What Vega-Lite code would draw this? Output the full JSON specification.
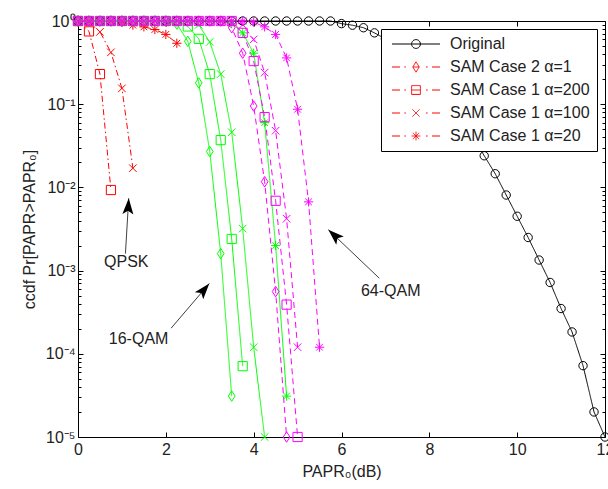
{
  "$schema": "https://vega.github.io/schema/vega-lite/v6.json",
  "width": 527,
  "height": 416,
  "autosize": {"type": "none"},
  "padding": {"left": 78, "top": 21, "right": 3, "bottom": 52},
  "background": "white",
  "config": {
    "font": "Liberation Sans",
    "view": {"stroke": null},
    "axis": {
      "grid": false,
      "domainColor": "black",
      "tickColor": "black",
      "labelColor": "#222222",
      "titleColor": "#222222",
      "labelFontSize": 16,
      "titleFontSize": 16,
      "titleFontWeight": "normal",
      "domainWidth": 1,
      "tickWidth": 1
    }
  },
  "datasets": {
    "curves": [
      {"mod": "Original", "case": "Original", "x": 0, "p": 1},
      {"mod": "Original", "case": "Original", "x": 0.25, "p": 1},
      {"mod": "Original", "case": "Original", "x": 0.5, "p": 1},
      {"mod": "Original", "case": "Original", "x": 0.75, "p": 1},
      {"mod": "Original", "case": "Original", "x": 1, "p": 1},
      {"mod": "Original", "case": "Original", "x": 1.25, "p": 1},
      {"mod": "Original", "case": "Original", "x": 1.5, "p": 1},
      {"mod": "Original", "case": "Original", "x": 1.75, "p": 1},
      {"mod": "Original", "case": "Original", "x": 2, "p": 1},
      {"mod": "Original", "case": "Original", "x": 2.25, "p": 1},
      {"mod": "Original", "case": "Original", "x": 2.5, "p": 1},
      {"mod": "Original", "case": "Original", "x": 2.75, "p": 1},
      {"mod": "Original", "case": "Original", "x": 3, "p": 1},
      {"mod": "Original", "case": "Original", "x": 3.25, "p": 1},
      {"mod": "Original", "case": "Original", "x": 3.5, "p": 1},
      {"mod": "Original", "case": "Original", "x": 3.75, "p": 1},
      {"mod": "Original", "case": "Original", "x": 4, "p": 1},
      {"mod": "Original", "case": "Original", "x": 4.25, "p": 1},
      {"mod": "Original", "case": "Original", "x": 4.5, "p": 1},
      {"mod": "Original", "case": "Original", "x": 4.75, "p": 1},
      {"mod": "Original", "case": "Original", "x": 5, "p": 1},
      {"mod": "Original", "case": "Original", "x": 5.25, "p": 1},
      {"mod": "Original", "case": "Original", "x": 5.5, "p": 1},
      {"mod": "Original", "case": "Original", "x": 5.75, "p": 1},
      {"mod": "Original", "case": "Original", "x": 6, "p": 0.93},
      {"mod": "Original", "case": "Original", "x": 6.25, "p": 0.89},
      {"mod": "Original", "case": "Original", "x": 6.5, "p": 0.83},
      {"mod": "Original", "case": "Original", "x": 6.75, "p": 0.72},
      {"mod": "Original", "case": "Original", "x": 7, "p": 0.61},
      {"mod": "Original", "case": "Original", "x": 7.25, "p": 0.48},
      {"mod": "Original", "case": "Original", "x": 7.5, "p": 0.37},
      {"mod": "Original", "case": "Original", "x": 7.75, "p": 0.28},
      {"mod": "Original", "case": "Original", "x": 8, "p": 0.2},
      {"mod": "Original", "case": "Original", "x": 8.25, "p": 0.14},
      {"mod": "Original", "case": "Original", "x": 8.5, "p": 0.095},
      {"mod": "Original", "case": "Original", "x": 8.75, "p": 0.062},
      {"mod": "Original", "case": "Original", "x": 9, "p": 0.04},
      {"mod": "Original", "case": "Original", "x": 9.25, "p": 0.024},
      {"mod": "Original", "case": "Original", "x": 9.5, "p": 0.0146},
      {"mod": "Original", "case": "Original", "x": 9.75, "p": 0.0081},
      {"mod": "Original", "case": "Original", "x": 10, "p": 0.0045},
      {"mod": "Original", "case": "Original", "x": 10.25, "p": 0.0025},
      {"mod": "Original", "case": "Original", "x": 10.5, "p": 0.00134},
      {"mod": "Original", "case": "Original", "x": 10.75, "p": 0.00072},
      {"mod": "Original", "case": "Original", "x": 11, "p": 0.00035},
      {"mod": "Original", "case": "Original", "x": 11.25, "p": 0.000183},
      {"mod": "Original", "case": "Original", "x": 11.5, "p": 0.000072},
      {"mod": "Original", "case": "Original", "x": 11.75, "p": 0.00002},
      {"mod": "Original", "case": "Original", "x": 12, "p": 0.00001},

      {"mod": "QPSK", "case": "SAM Case 2 α=1", "x": 0, "p": 1},

      {"mod": "QPSK", "case": "SAM Case 1 α=200", "x": 0, "p": 1},
      {"mod": "QPSK", "case": "SAM Case 1 α=200", "x": 0.25, "p": 0.75},
      {"mod": "QPSK", "case": "SAM Case 1 α=200", "x": 0.5, "p": 0.23},
      {"mod": "QPSK", "case": "SAM Case 1 α=200", "x": 0.75, "p": 0.0093},

      {"mod": "QPSK", "case": "SAM Case 1 α=100", "x": 0, "p": 1},
      {"mod": "QPSK", "case": "SAM Case 1 α=100", "x": 0.25, "p": 0.97},
      {"mod": "QPSK", "case": "SAM Case 1 α=100", "x": 0.5, "p": 0.74},
      {"mod": "QPSK", "case": "SAM Case 1 α=100", "x": 0.75, "p": 0.42},
      {"mod": "QPSK", "case": "SAM Case 1 α=100", "x": 1, "p": 0.155},
      {"mod": "QPSK", "case": "SAM Case 1 α=100", "x": 1.25, "p": 0.017},

      {"mod": "QPSK", "case": "SAM Case 1 α=20", "x": 0, "p": 1},
      {"mod": "QPSK", "case": "SAM Case 1 α=20", "x": 0.25, "p": 1},
      {"mod": "QPSK", "case": "SAM Case 1 α=20", "x": 0.5, "p": 1},
      {"mod": "QPSK", "case": "SAM Case 1 α=20", "x": 0.75, "p": 1},
      {"mod": "QPSK", "case": "SAM Case 1 α=20", "x": 1, "p": 0.96},
      {"mod": "QPSK", "case": "SAM Case 1 α=20", "x": 1.25, "p": 0.89},
      {"mod": "QPSK", "case": "SAM Case 1 α=20", "x": 1.5, "p": 0.85},
      {"mod": "QPSK", "case": "SAM Case 1 α=20", "x": 1.75, "p": 0.79},
      {"mod": "QPSK", "case": "SAM Case 1 α=20", "x": 2, "p": 0.69},
      {"mod": "QPSK", "case": "SAM Case 1 α=20", "x": 2.25, "p": 0.54},

      {"mod": "16-QAM", "case": "SAM Case 2 α=1", "x": 0, "p": 1},
      {"mod": "16-QAM", "case": "SAM Case 2 α=1", "x": 0.25, "p": 1},
      {"mod": "16-QAM", "case": "SAM Case 2 α=1", "x": 0.5, "p": 1},
      {"mod": "16-QAM", "case": "SAM Case 2 α=1", "x": 0.75, "p": 1},
      {"mod": "16-QAM", "case": "SAM Case 2 α=1", "x": 1, "p": 1},
      {"mod": "16-QAM", "case": "SAM Case 2 α=1", "x": 1.25, "p": 1},
      {"mod": "16-QAM", "case": "SAM Case 2 α=1", "x": 1.5, "p": 1},
      {"mod": "16-QAM", "case": "SAM Case 2 α=1", "x": 1.75, "p": 1},
      {"mod": "16-QAM", "case": "SAM Case 2 α=1", "x": 2, "p": 1},
      {"mod": "16-QAM", "case": "SAM Case 2 α=1", "x": 2.25, "p": 0.92},
      {"mod": "16-QAM", "case": "SAM Case 2 α=1", "x": 2.5, "p": 0.57},
      {"mod": "16-QAM", "case": "SAM Case 2 α=1", "x": 2.75, "p": 0.18},
      {"mod": "16-QAM", "case": "SAM Case 2 α=1", "x": 3, "p": 0.027},
      {"mod": "16-QAM", "case": "SAM Case 2 α=1", "x": 3.25, "p": 0.0016},
      {"mod": "16-QAM", "case": "SAM Case 2 α=1", "x": 3.5, "p": 0.000031},

      {"mod": "16-QAM", "case": "SAM Case 1 α=200", "x": 0, "p": 1},
      {"mod": "16-QAM", "case": "SAM Case 1 α=200", "x": 0.25, "p": 1},
      {"mod": "16-QAM", "case": "SAM Case 1 α=200", "x": 0.5, "p": 1},
      {"mod": "16-QAM", "case": "SAM Case 1 α=200", "x": 0.75, "p": 1},
      {"mod": "16-QAM", "case": "SAM Case 1 α=200", "x": 1, "p": 1},
      {"mod": "16-QAM", "case": "SAM Case 1 α=200", "x": 1.25, "p": 1},
      {"mod": "16-QAM", "case": "SAM Case 1 α=200", "x": 1.5, "p": 1},
      {"mod": "16-QAM", "case": "SAM Case 1 α=200", "x": 1.75, "p": 1},
      {"mod": "16-QAM", "case": "SAM Case 1 α=200", "x": 2, "p": 1},
      {"mod": "16-QAM", "case": "SAM Case 1 α=200", "x": 2.25, "p": 1},
      {"mod": "16-QAM", "case": "SAM Case 1 α=200", "x": 2.5, "p": 0.86},
      {"mod": "16-QAM", "case": "SAM Case 1 α=200", "x": 2.75, "p": 0.61},
      {"mod": "16-QAM", "case": "SAM Case 1 α=200", "x": 3, "p": 0.23},
      {"mod": "16-QAM", "case": "SAM Case 1 α=200", "x": 3.25, "p": 0.037},
      {"mod": "16-QAM", "case": "SAM Case 1 α=200", "x": 3.5, "p": 0.0024},
      {"mod": "16-QAM", "case": "SAM Case 1 α=200", "x": 3.75, "p": 0.000071},

      {"mod": "16-QAM", "case": "SAM Case 1 α=100", "x": 0, "p": 1},
      {"mod": "16-QAM", "case": "SAM Case 1 α=100", "x": 0.25, "p": 1},
      {"mod": "16-QAM", "case": "SAM Case 1 α=100", "x": 0.5, "p": 1},
      {"mod": "16-QAM", "case": "SAM Case 1 α=100", "x": 0.75, "p": 1},
      {"mod": "16-QAM", "case": "SAM Case 1 α=100", "x": 1, "p": 1},
      {"mod": "16-QAM", "case": "SAM Case 1 α=100", "x": 1.25, "p": 1},
      {"mod": "16-QAM", "case": "SAM Case 1 α=100", "x": 1.5, "p": 1},
      {"mod": "16-QAM", "case": "SAM Case 1 α=100", "x": 1.75, "p": 1},
      {"mod": "16-QAM", "case": "SAM Case 1 α=100", "x": 2, "p": 1},
      {"mod": "16-QAM", "case": "SAM Case 1 α=100", "x": 2.25, "p": 1},
      {"mod": "16-QAM", "case": "SAM Case 1 α=100", "x": 2.5, "p": 1},
      {"mod": "16-QAM", "case": "SAM Case 1 α=100", "x": 2.75, "p": 0.9},
      {"mod": "16-QAM", "case": "SAM Case 1 α=100", "x": 3, "p": 0.56},
      {"mod": "16-QAM", "case": "SAM Case 1 α=100", "x": 3.25, "p": 0.23},
      {"mod": "16-QAM", "case": "SAM Case 1 α=100", "x": 3.5, "p": 0.046},
      {"mod": "16-QAM", "case": "SAM Case 1 α=100", "x": 3.75, "p": 0.0032},
      {"mod": "16-QAM", "case": "SAM Case 1 α=100", "x": 4, "p": 0.00012},
      {"mod": "16-QAM", "case": "SAM Case 1 α=100", "x": 4.25, "p": 0.00001},

      {"mod": "16-QAM", "case": "SAM Case 1 α=20", "x": 0, "p": 1},
      {"mod": "16-QAM", "case": "SAM Case 1 α=20", "x": 0.25, "p": 1},
      {"mod": "16-QAM", "case": "SAM Case 1 α=20", "x": 0.5, "p": 1},
      {"mod": "16-QAM", "case": "SAM Case 1 α=20", "x": 0.75, "p": 1},
      {"mod": "16-QAM", "case": "SAM Case 1 α=20", "x": 1, "p": 1},
      {"mod": "16-QAM", "case": "SAM Case 1 α=20", "x": 1.25, "p": 1},
      {"mod": "16-QAM", "case": "SAM Case 1 α=20", "x": 1.5, "p": 1},
      {"mod": "16-QAM", "case": "SAM Case 1 α=20", "x": 1.75, "p": 1},
      {"mod": "16-QAM", "case": "SAM Case 1 α=20", "x": 2, "p": 1},
      {"mod": "16-QAM", "case": "SAM Case 1 α=20", "x": 2.25, "p": 1},
      {"mod": "16-QAM", "case": "SAM Case 1 α=20", "x": 2.5, "p": 1},
      {"mod": "16-QAM", "case": "SAM Case 1 α=20", "x": 2.75, "p": 1},
      {"mod": "16-QAM", "case": "SAM Case 1 α=20", "x": 3, "p": 1},
      {"mod": "16-QAM", "case": "SAM Case 1 α=20", "x": 3.25, "p": 1},
      {"mod": "16-QAM", "case": "SAM Case 1 α=20", "x": 3.5, "p": 0.93},
      {"mod": "16-QAM", "case": "SAM Case 1 α=20", "x": 3.75, "p": 0.72},
      {"mod": "16-QAM", "case": "SAM Case 1 α=20", "x": 4, "p": 0.41},
      {"mod": "16-QAM", "case": "SAM Case 1 α=20", "x": 4.25, "p": 0.06},
      {"mod": "16-QAM", "case": "SAM Case 1 α=20", "x": 4.5, "p": 0.002},
      {"mod": "16-QAM", "case": "SAM Case 1 α=20", "x": 4.75, "p": 0.000031},

      {"mod": "64-QAM", "case": "SAM Case 2 α=1", "x": 0, "p": 1},
      {"mod": "64-QAM", "case": "SAM Case 2 α=1", "x": 0.25, "p": 1},
      {"mod": "64-QAM", "case": "SAM Case 2 α=1", "x": 0.5, "p": 1},
      {"mod": "64-QAM", "case": "SAM Case 2 α=1", "x": 0.75, "p": 1},
      {"mod": "64-QAM", "case": "SAM Case 2 α=1", "x": 1, "p": 1},
      {"mod": "64-QAM", "case": "SAM Case 2 α=1", "x": 1.25, "p": 1},
      {"mod": "64-QAM", "case": "SAM Case 2 α=1", "x": 1.5, "p": 1},
      {"mod": "64-QAM", "case": "SAM Case 2 α=1", "x": 1.75, "p": 1},
      {"mod": "64-QAM", "case": "SAM Case 2 α=1", "x": 2, "p": 1},
      {"mod": "64-QAM", "case": "SAM Case 2 α=1", "x": 2.25, "p": 1},
      {"mod": "64-QAM", "case": "SAM Case 2 α=1", "x": 2.5, "p": 1},
      {"mod": "64-QAM", "case": "SAM Case 2 α=1", "x": 2.75, "p": 1},
      {"mod": "64-QAM", "case": "SAM Case 2 α=1", "x": 3, "p": 1},
      {"mod": "64-QAM", "case": "SAM Case 2 α=1", "x": 3.25, "p": 1},
      {"mod": "64-QAM", "case": "SAM Case 2 α=1", "x": 3.5, "p": 0.83},
      {"mod": "64-QAM", "case": "SAM Case 2 α=1", "x": 3.75, "p": 0.41},
      {"mod": "64-QAM", "case": "SAM Case 2 α=1", "x": 4, "p": 0.095},
      {"mod": "64-QAM", "case": "SAM Case 2 α=1", "x": 4.25, "p": 0.0117},
      {"mod": "64-QAM", "case": "SAM Case 2 α=1", "x": 4.5, "p": 0.00056},
      {"mod": "64-QAM", "case": "SAM Case 2 α=1", "x": 4.75, "p": 0.00001},

      {"mod": "64-QAM", "case": "SAM Case 1 α=200", "x": 0, "p": 1},
      {"mod": "64-QAM", "case": "SAM Case 1 α=200", "x": 0.25, "p": 1},
      {"mod": "64-QAM", "case": "SAM Case 1 α=200", "x": 0.5, "p": 1},
      {"mod": "64-QAM", "case": "SAM Case 1 α=200", "x": 0.75, "p": 1},
      {"mod": "64-QAM", "case": "SAM Case 1 α=200", "x": 1, "p": 1},
      {"mod": "64-QAM", "case": "SAM Case 1 α=200", "x": 1.25, "p": 1},
      {"mod": "64-QAM", "case": "SAM Case 1 α=200", "x": 1.5, "p": 1},
      {"mod": "64-QAM", "case": "SAM Case 1 α=200", "x": 1.75, "p": 1},
      {"mod": "64-QAM", "case": "SAM Case 1 α=200", "x": 2, "p": 1},
      {"mod": "64-QAM", "case": "SAM Case 1 α=200", "x": 2.25, "p": 1},
      {"mod": "64-QAM", "case": "SAM Case 1 α=200", "x": 2.5, "p": 1},
      {"mod": "64-QAM", "case": "SAM Case 1 α=200", "x": 2.75, "p": 1},
      {"mod": "64-QAM", "case": "SAM Case 1 α=200", "x": 3, "p": 1},
      {"mod": "64-QAM", "case": "SAM Case 1 α=200", "x": 3.25, "p": 1},
      {"mod": "64-QAM", "case": "SAM Case 1 α=200", "x": 3.5, "p": 1},
      {"mod": "64-QAM", "case": "SAM Case 1 α=200", "x": 3.75, "p": 0.72},
      {"mod": "64-QAM", "case": "SAM Case 1 α=200", "x": 4, "p": 0.33},
      {"mod": "64-QAM", "case": "SAM Case 1 α=200", "x": 4.25, "p": 0.07},
      {"mod": "64-QAM", "case": "SAM Case 1 α=200", "x": 4.5, "p": 0.0069},
      {"mod": "64-QAM", "case": "SAM Case 1 α=200", "x": 4.75, "p": 0.00039},
      {"mod": "64-QAM", "case": "SAM Case 1 α=200", "x": 5, "p": 0.00001},

      {"mod": "64-QAM", "case": "SAM Case 1 α=100", "x": 0, "p": 1},
      {"mod": "64-QAM", "case": "SAM Case 1 α=100", "x": 0.25, "p": 1},
      {"mod": "64-QAM", "case": "SAM Case 1 α=100", "x": 0.5, "p": 1},
      {"mod": "64-QAM", "case": "SAM Case 1 α=100", "x": 0.75, "p": 1},
      {"mod": "64-QAM", "case": "SAM Case 1 α=100", "x": 1, "p": 1},
      {"mod": "64-QAM", "case": "SAM Case 1 α=100", "x": 1.25, "p": 1},
      {"mod": "64-QAM", "case": "SAM Case 1 α=100", "x": 1.5, "p": 1},
      {"mod": "64-QAM", "case": "SAM Case 1 α=100", "x": 1.75, "p": 1},
      {"mod": "64-QAM", "case": "SAM Case 1 α=100", "x": 2, "p": 1},
      {"mod": "64-QAM", "case": "SAM Case 1 α=100", "x": 2.25, "p": 1},
      {"mod": "64-QAM", "case": "SAM Case 1 α=100", "x": 2.5, "p": 1},
      {"mod": "64-QAM", "case": "SAM Case 1 α=100", "x": 2.75, "p": 1},
      {"mod": "64-QAM", "case": "SAM Case 1 α=100", "x": 3, "p": 1},
      {"mod": "64-QAM", "case": "SAM Case 1 α=100", "x": 3.25, "p": 1},
      {"mod": "64-QAM", "case": "SAM Case 1 α=100", "x": 3.5, "p": 1},
      {"mod": "64-QAM", "case": "SAM Case 1 α=100", "x": 3.75, "p": 0.9},
      {"mod": "64-QAM", "case": "SAM Case 1 α=100", "x": 4, "p": 0.6},
      {"mod": "64-QAM", "case": "SAM Case 1 α=100", "x": 4.25, "p": 0.24},
      {"mod": "64-QAM", "case": "SAM Case 1 α=100", "x": 4.5, "p": 0.048},
      {"mod": "64-QAM", "case": "SAM Case 1 α=100", "x": 4.75, "p": 0.0042},
      {"mod": "64-QAM", "case": "SAM Case 1 α=100", "x": 5, "p": 0.00012},

      {"mod": "64-QAM", "case": "SAM Case 1 α=20", "x": 0, "p": 1},
      {"mod": "64-QAM", "case": "SAM Case 1 α=20", "x": 0.25, "p": 1},
      {"mod": "64-QAM", "case": "SAM Case 1 α=20", "x": 0.5, "p": 1},
      {"mod": "64-QAM", "case": "SAM Case 1 α=20", "x": 0.75, "p": 1},
      {"mod": "64-QAM", "case": "SAM Case 1 α=20", "x": 1, "p": 1},
      {"mod": "64-QAM", "case": "SAM Case 1 α=20", "x": 1.25, "p": 1},
      {"mod": "64-QAM", "case": "SAM Case 1 α=20", "x": 1.5, "p": 1},
      {"mod": "64-QAM", "case": "SAM Case 1 α=20", "x": 1.75, "p": 1},
      {"mod": "64-QAM", "case": "SAM Case 1 α=20", "x": 2, "p": 1},
      {"mod": "64-QAM", "case": "SAM Case 1 α=20", "x": 2.25, "p": 1},
      {"mod": "64-QAM", "case": "SAM Case 1 α=20", "x": 2.5, "p": 1},
      {"mod": "64-QAM", "case": "SAM Case 1 α=20", "x": 2.75, "p": 1},
      {"mod": "64-QAM", "case": "SAM Case 1 α=20", "x": 3, "p": 1},
      {"mod": "64-QAM", "case": "SAM Case 1 α=20", "x": 3.25, "p": 1},
      {"mod": "64-QAM", "case": "SAM Case 1 α=20", "x": 3.5, "p": 1},
      {"mod": "64-QAM", "case": "SAM Case 1 α=20", "x": 3.75, "p": 1},
      {"mod": "64-QAM", "case": "SAM Case 1 α=20", "x": 4, "p": 0.97},
      {"mod": "64-QAM", "case": "SAM Case 1 α=20", "x": 4.25, "p": 0.85},
      {"mod": "64-QAM", "case": "SAM Case 1 α=20", "x": 4.5, "p": 0.69},
      {"mod": "64-QAM", "case": "SAM Case 1 α=20", "x": 4.75, "p": 0.36},
      {"mod": "64-QAM", "case": "SAM Case 1 α=20", "x": 5, "p": 0.087},
      {"mod": "64-QAM", "case": "SAM Case 1 α=20", "x": 5.25, "p": 0.0067},
      {"mod": "64-QAM", "case": "SAM Case 1 α=20", "x": 5.5, "p": 0.00012}
    ],
    "arrows": [
      {"label": "QPSK", "x": 1.08, "p": 0.0016, "x2": 1.155, "p2": 0.0074},
      {"label": "16-QAM", "x": 2.12, "p": 0.000203, "x2": 2.99, "p2": 0.0007},
      {"label": "64-QAM", "x": 6.86, "p": 0.00081, "x2": 5.7, "p2": 0.0031}
    ],
    "notes": [
      {"label": "QPSK", "x": 1.1, "p": 0.00112},
      {"label": "16-QAM", "x": 1.38, "p": 0.000131},
      {"label": "64-QAM", "x": 7.12, "p": 0.0005}
    ]
  },
  "resolve": {"axis": {"x": "independent", "y": "independent"}},
  "layer": [
    {
      "data": {"name": "curves"},
      "transform": [{"calculate": "datum.case", "as": "series"}],
      "mark": {"type": "line", "strokeWidth": 1, "clip": false},
      "encoding": {
        "x": {
          "field": "x", "type": "quantitative",
          "scale": {"domain": [0, 12], "nice": false, "zero": false},
          "axis": {
            "orient": "bottom", "values": [0, 2, 4, 6, 8, 10, 12],
            "title": "PAPR₀(dB)", "tickSize": -5, "labelPadding": 9,
            "titlePadding": 6, "labelFlush": false, "labelOverlap": false
          }
        },
        "y": {
          "field": "p", "type": "quantitative",
          "scale": {"type": "log", "domain": [0.00001, 1], "nice": false},
          "axis": {
            "orient": "left",
            "values": [0.00001, 0.00002, 0.00003, 0.00004, 0.00005, 0.00006, 0.00007, 0.00008, 0.00009,
                       0.0001, 0.0002, 0.0003, 0.0004, 0.0005, 0.0006, 0.0007, 0.0008, 0.0009,
                       0.001, 0.002, 0.003, 0.004, 0.005, 0.006, 0.007, 0.008, 0.009,
                       0.01, 0.02, 0.03, 0.04, 0.05, 0.06, 0.07, 0.08, 0.09,
                       0.1, 0.2, 0.3, 0.4, 0.5, 0.6, 0.7, 0.8, 0.9, 1],
            "labelExpr": "abs(log(datum.value)/LN10 - round(log(datum.value)/LN10)) < 0.000001 ? ['10⁰','10⁻¹','10⁻²','10⁻³','10⁻⁴','10⁻⁵'][-round(log(datum.value)/LN10)] : ''",
            "labelOverlap": false, "labelBound": false, "labelFlush": false,
            "tickSize": {"condition": {"test": "abs(log(datum.value)/LN10 - round(log(datum.value)/LN10)) < 0.000001", "value": -5}, "value": -3},
            "labelPadding": 8,
            "title": "ccdf Pr[PAPR>PAPR₀]", "titlePadding": 8
          }
        },
        "color": {
          "field": "mod", "type": "nominal",
          "scale": {"domain": ["Original", "QPSK", "16-QAM", "64-QAM"], "range": ["#000000", "#ff0000", "#00ff00", "#ff00ff"]},
          "legend": null
        },
        "strokeDash": {
          "field": "mod", "type": "nominal",
          "scale": {"domain": ["Original", "QPSK", "16-QAM", "64-QAM"], "range": [[1, 0], [6, 3, 1.5, 3], [1, 0], [6, 4]]},
          "legend": null
        },
        "detail": [{"field": "mod"}, {"field": "case"}],
        "opacity": {
          "field": "series", "type": "ordinal",
          "sort": ["Original", "SAM Case 2 α=1", "SAM Case 1 α=200", "SAM Case 1 α=100", "SAM Case 1 α=20"],
          "scale": {"range": [1, 1, 1, 1, 1]},
          "legend": {
            "title": null, "orient": "top-right", "offset": 8, "padding": 7,
            "fillColor": "white", "strokeColor": "black", "cornerRadius": 0,
            "labelFontSize": 16, "labelColor": "#222222", "labelFont": "Liberation Sans", "labelLimit": 300,
            "symbolSize": 64, "symbolStrokeWidth": 1, "symbolOffset": 20, "labelOffset": 26, "rowPadding": 7,
            "encode": {
              "symbols": {
                "update": {
                  "shape": {"signal": "datum.value === 'Original' ? 'M-6,0H6M1.1,0A1.1,1.1 0 1,1 -1.1,0A1.1,1.1 0 1,1 1.1,0' : datum.value === 'SAM Case 2 α=1' ? 'M-6,0H-4M-2.9,0H-2.5M2.5,0H2.9M4,0H6M0,-1.3L0.8,0L0,1.3L-0.8,0ZM-0.8,0H0.8' : datum.value === 'SAM Case 1 α=200' ? 'M-6,0H-4M-2.9,0H-2.5M2.5,0H2.9M4,0H6M-1.1,-1.1H1.1V1.1H-1.1ZM-1.1,0H1.1' : datum.value === 'SAM Case 1 α=100' ? 'M-6,0H-4M-2.9,0H-2.5M2.5,0H2.9M4,0H6M-0.9,-0.9L0.9,0.9M-0.9,0.9L0.9,-0.9' : 'M-6,0H-4M-2.9,0H-2.5M2.5,0H2.9M4,0H6M0,-1.1V1.1M-1.1,0H1.1M-0.8,-0.8L0.8,0.8M-0.8,0.8L0.8,-0.8'"},
                  "stroke": {"signal": "datum.value === 'Original' ? 'black' : 'red'"},
                  "fill": {"value": "transparent"},
                  "strokeWidth": {"value": 1},
                  "strokeDash": {"value": [1, 0]},
                  "opacity": {"value": 1}
                }
              }
            }
          }
        }
      }
    },
    {
      "data": {"name": "curves"},
      "mark": {"type": "point", "filled": false, "size": 70, "strokeWidth": 1, "opacity": 1, "clip": false},
      "encoding": {
        "x": {
          "field": "x", "type": "quantitative",
          "scale": {"domain": [0, 12], "nice": false, "zero": false},
          "axis": {"orient": "top", "values": [0, 2, 4, 6, 8, 10, 12], "labels": false, "title": null, "tickSize": -5}
        },
        "y": {
          "field": "p", "type": "quantitative",
          "scale": {"type": "log", "domain": [0.00001, 1], "nice": false},
          "axis": {
            "orient": "right", "labels": false, "title": null,
            "values": [0.00001, 0.00002, 0.00003, 0.00004, 0.00005, 0.00006, 0.00007, 0.00008, 0.00009,
                       0.0001, 0.0002, 0.0003, 0.0004, 0.0005, 0.0006, 0.0007, 0.0008, 0.0009,
                       0.001, 0.002, 0.003, 0.004, 0.005, 0.006, 0.007, 0.008, 0.009,
                       0.01, 0.02, 0.03, 0.04, 0.05, 0.06, 0.07, 0.08, 0.09,
                       0.1, 0.2, 0.3, 0.4, 0.5, 0.6, 0.7, 0.8, 0.9, 1],
            "tickSize": {"condition": {"test": "abs(log(datum.value)/LN10 - round(log(datum.value)/LN10)) < 0.000001", "value": -5}, "value": -3}
          }
        },
        "color": {
          "field": "mod", "type": "nominal",
          "scale": {"domain": ["Original", "QPSK", "16-QAM", "64-QAM"], "range": ["#000000", "#ff0000", "#00ff00", "#ff00ff"]},
          "legend": null
        },
        "shape": {
          "field": "case", "type": "nominal",
          "scale": {
            "domain": ["Original", "SAM Case 2 α=1", "SAM Case 1 α=200", "SAM Case 1 α=100", "SAM Case 1 α=20"],
            "range": [
              "circle",
              "M0,-1.25L0.8,0L0,1.25L-0.8,0Z",
              "M-1.1,-1.1H1.1V1.1H-1.1Z",
              "M-0.9,-0.9L0.9,0.9M-0.9,0.9L0.9,-0.9",
              "M0,-1.1V1.1M-1.1,0H1.1M-0.8,-0.8L0.8,0.8M-0.8,0.8L0.8,-0.8"
            ]
          },
          "legend": null
        }
      }
    },
    {
      "data": {"name": "arrows"},
      "mark": {"type": "rule", "color": "#404040", "strokeWidth": 1},
      "encoding": {
        "x": {"field": "x", "type": "quantitative", "scale": {"domain": [0, 12], "nice": false, "zero": false}, "axis": null},
        "y": {"field": "p", "type": "quantitative", "scale": {"type": "log", "domain": [0.00001, 1], "nice": false}, "axis": null},
        "x2": {"field": "x2"},
        "y2": {"field": "p2"}
      }
    },
    {
      "data": {"name": "arrows"},
      "transform": [{"filter": "datum.label === 'QPSK'"}],
      "mark": {"type": "point", "shape": "M0,0L0.55,1.6L0,1.25L-0.55,1.6Z", "size": 400, "filled": true, "color": "black", "opacity": 1, "strokeWidth": 0, "angle": 3},
      "encoding": {
        "x": {"field": "x2", "type": "quantitative", "scale": {"domain": [0, 12], "nice": false, "zero": false}, "axis": null},
        "y": {"field": "p2", "type": "quantitative", "scale": {"type": "log", "domain": [0.00001, 1], "nice": false}, "axis": null}
      }
    },
    {
      "data": {"name": "arrows"},
      "transform": [{"filter": "datum.label === '16-QAM'"}],
      "mark": {"type": "point", "shape": "M0,0L0.55,1.6L0,1.25L-0.55,1.6Z", "size": 400, "filled": true, "color": "black", "opacity": 1, "strokeWidth": 0, "angle": 40},
      "encoding": {
        "x": {"field": "x2", "type": "quantitative", "scale": {"domain": [0, 12], "nice": false, "zero": false}, "axis": null},
        "y": {"field": "p2", "type": "quantitative", "scale": {"type": "log", "domain": [0.00001, 1], "nice": false}, "axis": null}
      }
    },
    {
      "data": {"name": "arrows"},
      "transform": [{"filter": "datum.label === '64-QAM'"}],
      "mark": {"type": "point", "shape": "M0,0L0.55,1.6L0,1.25L-0.55,1.6Z", "size": 400, "filled": true, "color": "black", "opacity": 1, "strokeWidth": 0, "angle": 313},
      "encoding": {
        "x": {"field": "x2", "type": "quantitative", "scale": {"domain": [0, 12], "nice": false, "zero": false}, "axis": null},
        "y": {"field": "p2", "type": "quantitative", "scale": {"type": "log", "domain": [0.00001, 1], "nice": false}, "axis": null}
      }
    },
    {
      "data": {"name": "notes"},
      "mark": {"type": "text", "fontSize": 16, "color": "#222222", "align": "center", "baseline": "alphabetic", "font": "Liberation Sans"},
      "encoding": {
        "x": {"field": "x", "type": "quantitative", "scale": {"domain": [0, 12], "nice": false, "zero": false}, "axis": null},
        "y": {"field": "p", "type": "quantitative", "scale": {"type": "log", "domain": [0.00001, 1], "nice": false}, "axis": null},
        "text": {"field": "label"}
      }
    }
  ]
}
